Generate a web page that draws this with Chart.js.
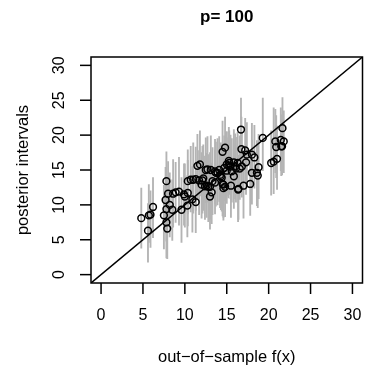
<!DOCTYPE html>
<html>
<head>
<meta charset="utf-8">
<script src="https://cdn.jsdelivr.net/npm/chart.js@4.4.1/dist/chart.umd.min.js"></script>
<style>
  html, body { margin: 0; padding: 0; background: #fff; overflow: hidden; }
  #wrap { width: 368px; height: 370px; }
</style>
</head>
<body>
<div id="wrap"><canvas id="c" width="368" height="370"></canvas></div>
<script>
// out-of-sample f(x), posterior mean, and interval ends
const fx = [4.8, 5.6, 5.7, 5.9, 6.2, 7.5, 7.7, 7.8, 7.9, 7.8,
  7.8, 8.0, 8.2, 8.5, 8.6, 8.9, 9.3, 9.6, 10.0, 10.3,
  10.35, 10.35, 10.7, 10.9, 11.0, 11.3, 11.3, 11.5, 11.7, 11.8,
  12.0, 12.1, 12.4, 12.5, 12.6, 12.7, 12.8, 13.0, 13.0, 13.1,
  13.2, 13.3, 13.6, 13.6, 13.7, 13.9, 14.1, 14.2, 14.3, 14.4,
  14.5, 14.6, 14.6, 14.5, 14.8, 14.8, 15.0, 15.0, 15.2, 15.25,
  15.45, 15.5, 15.6, 15.85, 15.85, 16.0, 16.1, 16.35, 16.4, 16.55,
  16.7, 16.75, 16.8, 17.0, 17.2, 17.3, 17.4, 17.8, 18.0, 18.0,
  18.3, 18.6, 18.7, 18.8, 19.3, 20.3, 20.6, 21.0, 20.8, 20.9,
  21.5, 21.45, 21.65, 21.8, 21.6, 15.3, 16.3, 14.7, 12.2, 9.9];
const post = [8.1, 6.3, 8.5, 8.6, 9.7, 8.5, 10.7, 7.5, 6.6, 13.4,
  9.4, 11.6, 10.0, 9.3, 11.6, 11.8, 11.9, 9.3, 11.2, 9.9,
  11.7, 13.4, 13.6, 10.8, 13.6, 10.4, 13.7, 15.6, 13.5, 15.8,
  12.9, 13.5, 12.65, 15.0, 12.75, 15.1, 12.6, 11.2, 12.6, 15.0,
  11.8, 13.4, 13.2, 14.8, 14.6, 14.6, 15.0, 14.3, 14.1, 13.9,
  13.0, 12.9, 12.4, 17.6, 18.2, 12.6, 15.8, 14.9, 15.6, 16.3,
  15.5, 12.75, 14.8, 16.1, 14.1, 15.5, 15.2, 12.2, 12.3, 15.2,
  20.8, 18.0, 15.5, 12.75, 17.8, 16.1, 17.2, 13.0, 17.2, 14.6,
  16.8, 14.6, 14.2, 15.4, 19.6, 16.0, 16.2, 16.6, 19.1, 18.3,
  18.4, 19.3, 21.0, 19.1, 18.4, 16.0, 16.0, 15.3, 13.8, 11.5];
const lo = [3.8, 1.8, 4.6, 3.9, 5.3, 3.7, 6.0, 2.4, 2.3, 9.1,
  4.8, 7.4, 5.4, 4.9, 6.8, 7.5, 7.1, 4.6, 6.8, 5.4,
  7.0, 8.7, 9.0, 6.1, 8.8, 6.0, 9.2, 10.9, 8.6, 11.3,
  8.1, 8.8, 7.9, 10.3, 8.2, 10.4, 7.6, 6.5, 8.0, 10.6,
  7.3, 8.6, 8.7, 10.1, 9.8, 10.0, 10.5, 9.6, 9.3, 9.1,
  8.4, 8.2, 7.8, 12.9, 13.5, 8.3, 11.3, 10.2, 11.0, 11.8,
  10.9, 8.2, 10.4, 11.6, 9.5, 10.9, 10.4, 7.6, 7.9, 10.8,
  16.2, 13.5, 11.1, 8.1, 13.2, 11.5, 12.7, 8.5, 12.6, 10.1,
  12.4, 9.9, 9.6, 10.9, 14.9, 11.4, 11.6, 12.2, 14.6, 13.9,
  14.2, 14.9, 16.5, 14.6, 14.3, 11.5, 11.6, 10.6, 9.2, 7.1];
const hi = [12.4, 10.2, 12.9, 12.0, 13.9, 12.8, 15.4, 11.9, 10.6, 17.6,
  14.0, 16.2, 14.6, 13.6, 16.5, 16.1, 16.8, 13.9, 15.9, 14.2,
  16.4, 17.9, 18.4, 15.5, 18.9, 14.8, 18.3, 20.1, 17.8, 20.6,
  17.5, 18.4, 17.0, 19.6, 17.4, 19.8, 17.2, 15.8, 17.5, 19.9,
  16.0, 18.2, 17.9, 19.4, 19.0, 19.5, 19.8, 18.7, 18.9, 18.6,
  17.6, 17.2, 16.9, 22.0, 22.6, 17.1, 20.5, 19.6, 20.4, 21.1,
  20.0, 17.3, 19.5, 20.8, 18.7, 20.2, 19.7, 16.8, 17.1, 19.9,
  25.3, 22.6, 20.3, 17.4, 22.4, 20.7, 21.8, 17.5, 21.7, 19.3,
  21.4, 19.2, 18.8, 20.1, 25.3, 20.6, 23.9, 21.3, 23.7, 22.8,
  22.9, 23.9, 25.4, 23.5, 22.6, 20.6, 20.4, 19.9, 18.6, 15.9];

const tickVals = [0, 5, 10, 15, 20, 25, 30];
const axisLim = [-1.2, 31.2];

const mainTitle = "p= 100";
const xTitle = "out\u2212of\u2212sample f(x)";
const yTitle = "posterior intervals";

const FONT = "'Liberation Sans', Arial, Helvetica, sans-serif";

// R-style box, ticks and labels
const rAxes = {
  id: "rAxes",
  afterDraw(chart) {
    const { ctx, chartArea: a, scales } = chart;
    const xs = scales.x, ys = scales.y;
    ctx.save();
    ctx.strokeStyle = "#000";
    ctx.lineWidth = 1.5;
    ctx.strokeRect(a.left, a.top, a.right - a.left, a.bottom - a.top);

    ctx.fillStyle = "#000";
    ctx.font = "16px " + FONT;
    ctx.textAlign = "center";
    ctx.textBaseline = "middle";
    tickVals.forEach(v => {
      const px = xs.getPixelForValue(v);
      ctx.beginPath();
      ctx.moveTo(px, a.bottom);
      ctx.lineTo(px, a.bottom + 11);
      ctx.stroke();
      ctx.fillText(String(v), px, 316);

      const py = ys.getPixelForValue(v);
      ctx.beginPath();
      ctx.moveTo(a.left, py);
      ctx.lineTo(a.left - 11, py);
      ctx.stroke();
      ctx.save();
      ctx.translate(60, py);
      ctx.rotate(-Math.PI / 2);
      ctx.fillText(String(v), 0, 0);
      ctx.restore();
    });

    ctx.font = "16.5px " + FONT;
    ctx.fillText(xTitle, (a.left + a.right) / 2, 357);
    ctx.save();
    ctx.translate(23, (a.top + a.bottom) / 2);
    ctx.rotate(-Math.PI / 2);
    ctx.fillText(yTitle, 0, 0);
    ctx.restore();

    ctx.font = "bold 17px " + FONT;
    ctx.fillText(mainTitle, (a.left + a.right) / 2, 17);
    ctx.restore();
  }
};

new Chart(document.getElementById("c"), {
  type: "scatter",
  data: {
    datasets: [
      {
        type: "line",
        data: axisLim.map(v => ({ x: v, y: v })),
        borderColor: "#000",
        borderWidth: 1.5,
        pointRadius: 0,
        order: 0
      },
      {
        type: "scatter",
        data: fx.map((v, i) => ({ x: v, y: post[i] })),
        pointStyle: "circle",
        pointRadius: 3.4,
        pointBorderWidth: 1.5,
        pointBorderColor: "#000",
        pointBackgroundColor: "rgba(0,0,0,0)",
        order: 1
      },
      {
        type: "bar",
        data: fx.map((v, i) => ({ x: v, y: [lo[i], hi[i]] })),
        backgroundColor: "#b4b4b4",
        barThickness: 1.2,
        grouped: false,
        order: 2
      }
    ]
  },
  options: {
    responsive: false,
    animation: false,
    devicePixelRatio: 1,
    layout: { padding: { left: 91, right: 1, top: 57, bottom: 87 } },
    plugins: { legend: { display: false }, tooltip: { enabled: false } },
    scales: {
      x: { type: "linear", min: axisLim[0], max: axisLim[1], display: false, offset: false },
      y: { type: "linear", min: axisLim[0], max: axisLim[1], display: false }
    }
  },
  plugins: [rAxes]
});
</script>
</body>
</html>
